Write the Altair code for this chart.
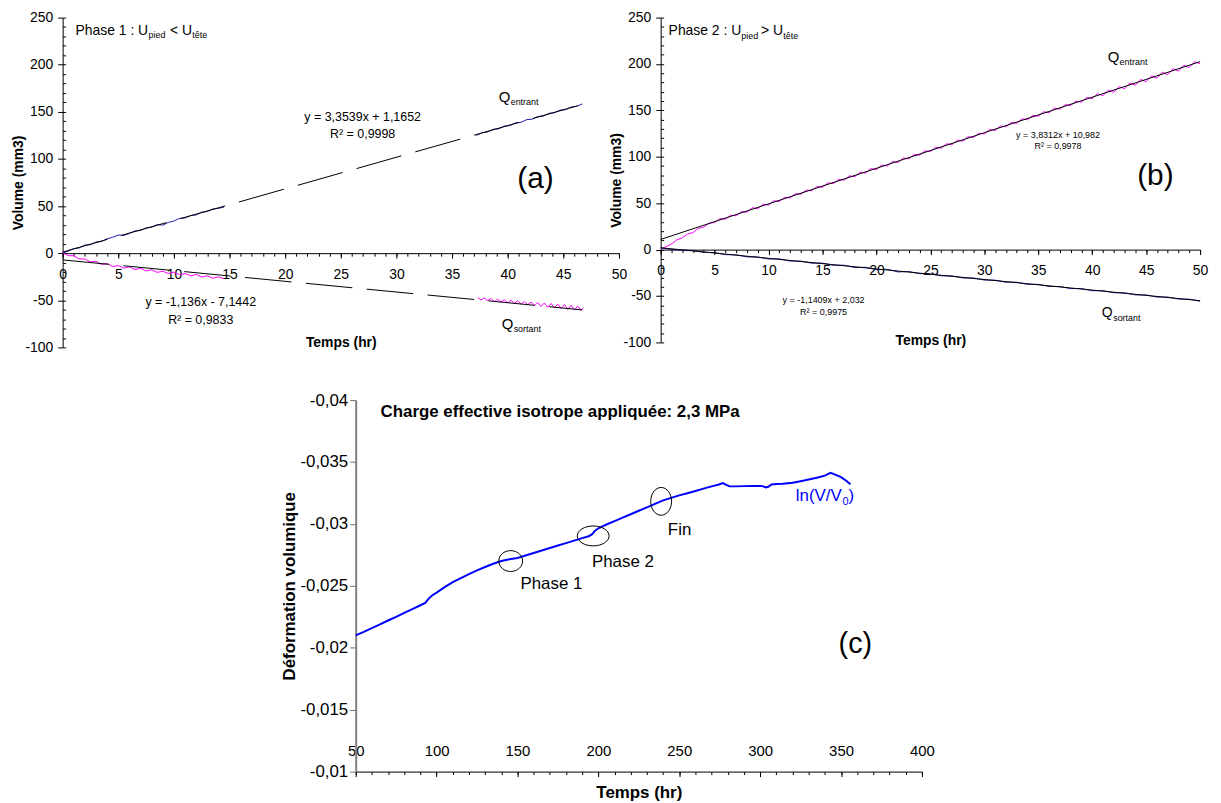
import altair as alt
import pandas as pd

FONT = "Liberation Sans"
MAGENTA = "#FF00FF"
NAVY = "#1C1CA8"
BLUE = "#0000FF"

# ---------------- Panel (a) data ----------------
a_in1_t = [0, 0.5, 1, 1.5, 2, 2.5, 3, 3.5, 4, 4.5, 5, 5.5, 6, 6.5, 7, 7.5, 8, 8.5, 9, 9.5,
           10, 10.5, 11, 11.5, 12, 12.5, 13, 13.5, 14, 14.5]
a_in1_v = [0.0, 2.1, 4.9, 5.6, 8.6, 9.0, 11.8, 12.4, 15.3, 16.8, 19.2, 18.9, 21.0, 23.6, 24.0,
           26.9, 27.5, 30.3, 29.8, 32.6, 34.1, 36.9, 37.4, 39.9, 40.6, 43.5, 44.2, 46.9, 47.5, 48.9]
a_in2_t = [37.2, 37.7, 38.2, 38.7, 39.2, 39.7, 40.2, 40.7, 41.2, 41.7, 42.2, 42.7, 43.2, 43.7,
           44.2, 44.7, 45.2, 45.7, 46.2, 46.7]
a_in2_v = [125.0, 127.9, 128.6, 131.5, 132.0, 134.9, 135.4, 138.2, 138.9, 141.7, 142.2, 145.0,
           145.5, 148.4, 149.0, 151.8, 152.3, 155.1, 155.8, 158.4]
a_out1_t = [0, 0.5, 1, 1.5, 2, 2.5, 3, 3.5, 4, 4.5, 5, 5.5, 6, 6.5, 7, 7.5, 8, 8.5, 9, 9.5,
            10, 10.5, 11, 11.5, 12, 12.5, 13, 13.5, 14, 14.5]
a_out1_v = [0.5, -2.6, -2.8, -6.2, -6.1, -9.4, -8.6, -11.9, -11.0, -14.2, -13.1, -15.9, -14.6,
            -17.4, -16.1, -18.9, -17.6, -20.4, -19.1, -21.6, -20.1, -22.9, -21.6, -24.1, -22.6,
            -25.4, -24.1, -26.6, -25.1, -27.2]
a_out2_t = [37.3, 37.6, 37.9, 38.2, 38.5, 38.8, 39.1, 39.4, 39.7, 40.0, 40.3, 40.6, 40.9, 41.2,
            41.5, 41.8, 42.1, 42.4, 42.7, 43.0, 43.3, 43.6, 43.9, 44.2, 44.5, 44.8, 45.1, 45.4,
            45.7, 46.0, 46.3, 46.6, 46.8]
a_out2_v = [-47.0, -49.6, -47.6, -50.4, -48.2, -51.3, -48.9, -51.8, -49.5, -52.6, -50.0, -53.4,
            -50.6, -54.1, -51.2, -54.8, -51.9, -55.6, -52.3, -56.5, -52.8, -57.4, -53.4, -58.1,
            -54.0, -58.9, -54.6, -59.7, -55.3, -60.4, -56.1, -60.8, -58.0]
a_trend_t = [0, 46.7]
a_trend_in = [1.17, 157.8]
a_trend_out = [-7.14, -60.2]

# ---------------- Panel (b) data ----------------
b_in_t = [0, 0.5, 1, 1.5, 2, 2.5, 3, 3.5, 4, 4.5, 5, 5.5, 6, 6.5, 7, 7.5, 8, 8.5, 9, 9.5,
          10, 10.5, 11, 11.5, 12, 12.5, 13, 13.5, 14, 14.5, 15, 15.5, 16, 16.5, 17, 17.5, 18,
          18.5, 19, 19.5, 20, 20.5, 21, 21.5, 22, 22.5, 23, 23.5, 24, 24.5, 25, 25.5, 26, 26.5,
          27, 27.5, 28, 28.5, 29, 29.5, 30, 30.5, 31, 31.5, 32, 32.5, 33, 33.5, 34, 34.5, 35,
          35.5, 36, 36.5, 37, 37.5, 38, 38.5, 39, 39.5, 40, 40.5, 41, 41.5, 42, 42.5, 43, 43.5,
          44, 44.5, 45, 45.5, 46, 46.5, 47, 47.5, 48, 48.5, 49, 49.5, 50]
b_in_v = [0.5, 3.2, 6.0, 10.5, 12.6, 16.8, 18.4, 22.9, 24.3, 28.6, 29.2, 33.4, 32.8, 37.1, 36.5,
          41.0, 40.4, 45.2, 44.1, 49.0, 48.0, 52.6, 51.9, 56.4, 55.7, 60.3, 59.6, 64.2, 63.4, 68.0,
          67.2, 71.9, 71.0, 75.7, 74.8, 79.5, 78.6, 83.4, 82.5, 87.3, 86.3, 91.0, 90.1, 94.9, 94.0,
          98.8, 97.8, 102.6, 101.6, 106.4, 105.5, 110.2, 109.3, 114.0, 113.1, 117.9, 116.9, 121.7,
          120.8, 125.5, 124.6, 129.4, 128.4, 133.2, 132.3, 137.0, 136.0, 140.9, 139.9, 144.7,
          143.7, 148.5, 147.5, 152.4, 151.3, 156.2, 155.2, 160.0, 158.9, 163.9, 162.7, 168.0,
          165.9, 171.9, 169.4, 175.8, 173.2, 179.6, 177.1, 183.4, 180.9, 187.3, 184.7, 191.1,
          188.5, 194.9, 192.4, 198.7, 196.2, 202.5, 200.3]
b_out_t = [0, 1, 2, 3, 4, 5, 6, 7, 8, 9, 10, 11, 12, 13, 14, 15, 16, 17, 18, 19, 20, 21, 22, 23,
           24, 25, 26, 27, 28, 29, 30, 31, 32, 33, 34, 35, 36, 37, 38, 39, 40, 41, 42, 43, 44, 45,
           46, 47, 48, 49, 50]
b_out_v = [1.8, 0.2, -0.6, -0.9, -2.9, -3.2, -5.4, -5.6, -7.8, -7.9, -10.1, -10.0, -12.3, -12.4,
           -14.6, -14.5, -16.9, -16.8, -19.3, -19.0, -21.7, -21.2, -24.0, -23.6, -25.9, -26.1,
           -28.2, -28.3, -30.5, -30.6, -32.8, -32.9, -35.1, -35.1, -37.4, -37.4, -39.7, -39.7,
           -42.0, -41.9, -44.3, -44.2, -46.5, -46.5, -48.8, -48.8, -51.1, -51.1, -53.3, -53.4, -55.6]
b_trend_t = [0, 50]
b_trend_in = [10.98, 202.54]
b_trend_out = [2.03, -55.01]

# ---------------- Panel (c) data ----------------
c_t = [50, 55, 60, 65, 70, 75, 80, 85, 90, 93, 95, 97, 100, 105, 110, 115, 120, 125, 130, 135,
       140, 145, 150, 155, 160, 165, 170, 175, 180, 185, 190, 194, 196, 198, 200, 205, 210, 215,
       220, 225, 230, 235, 240, 245, 250, 255, 260, 265, 270, 274, 277, 279, 281, 285, 290, 295,
       300, 302, 303.6, 305, 307, 310, 314, 320, 325, 330, 335, 340, 343.5, 346, 350, 353, 355.8]
c_v = [-0.02100, -0.02128, -0.02158, -0.02188, -0.02220, -0.02250, -0.02282, -0.02312, -0.02343,
       -0.02362, -0.02395, -0.02420, -0.02445, -0.02490, -0.02530, -0.02562, -0.02595, -0.02625,
       -0.02652, -0.02678, -0.02700, -0.02715, -0.02725, -0.02745, -0.02765, -0.02785, -0.02805,
       -0.02825, -0.02845, -0.02865, -0.02885, -0.02900, -0.02915, -0.02945, -0.02965, -0.02995,
       -0.03022, -0.03050, -0.03078, -0.03106, -0.03134, -0.03162, -0.03190, -0.03210, -0.03230,
       -0.03248, -0.03266, -0.03285, -0.03303, -0.03316, -0.03330, -0.03315, -0.03304, -0.03303,
       -0.03305, -0.03306, -0.03307, -0.03303, -0.03294, -0.03300, -0.03318, -0.03322, -0.03324,
       -0.03332, -0.03345, -0.03358, -0.03372, -0.03390, -0.03412, -0.03400, -0.03378, -0.03350,
       -0.03320]
c_marks_t = [145.8, 196.8, 238.8]
c_marks_v = [-0.0270, -0.02903, -0.03182]

ONE = pd.DataFrame({"k": [0]})


def txt(s, x, y, size, color="black", align="left", baseline="alphabetic", weight="normal"):
    return alt.Chart(ONE).mark_text(
        text=s, fontSize=size, font=FONT, color=color, align=align,
        baseline=baseline, fontWeight=weight,
    ).encode(x=alt.value(x), y=alt.value(y))


def seg_df(t, v, seg):
    return pd.DataFrame({"t": t, "v": v, "seg": [seg] * len(t)})


def panel_ab(width, height, lines, trends, texts, title_y):
    xs = alt.Scale(domain=[0, 50], nice=False, zero=False)
    ys = alt.Scale(domain=[-100, 250], nice=False, zero=False)
    off = -(height * 100 / 350)
    layers = []
    for df, color, w in lines:
        layers.append(alt.Chart(df).mark_line(color=color, strokeWidth=w).encode(
            x=alt.X("t:Q", scale=xs, axis=None),
            y=alt.Y("v:Q", scale=ys, axis=None),
            detail="seg:N"))
    for df, dash in trends:
        kw = {"strokeDash": dash} if dash else {}
        layers.append(alt.Chart(df).mark_line(color="black", strokeWidth=1, **kw).encode(
            x=alt.X("t:Q", scale=xs, axis=None),
            y=alt.Y("v:Q", scale=ys, axis=None)))
    corners = pd.DataFrame({"t": [0, 50], "v": [-100, 250]})
    major = alt.Chart(corners).mark_point(opacity=0).encode(
        x=alt.X("t:Q", scale=xs, axis=alt.Axis(
            values=[0, 5, 10, 15, 20, 25, 30, 35, 40, 45, 50], orient="bottom", offset=off,
            tickSize=5, labelPadding=16, labelBaseline="middle", labelFontSize=14,
            labelFlush=False, labelOverlap=False, labelExpr="toString(datum.value)",
            title="Temps (hr)", titleFontSize=14, titleFontWeight="bold",
            titleY=title_y, titleBaseline="middle")),
        y=alt.Y("v:Q", scale=ys, axis=alt.Axis(
            values=[-100, -50, 0, 50, 100, 150, 200, 250], orient="left",
            tickSize=5, labelPadding=5, labelFontSize=14, labelFlush=False,
            labelOverlap=False, labelExpr="toString(datum.value)",
            title="Volume (mm3)", titleFontSize=14, titleFontWeight="bold",
            titleX=-44, titleBaseline="middle")))
    minor = alt.Chart(corners).mark_point(opacity=0).encode(
        x=alt.X("t:Q", scale=xs, axis=alt.Axis(
            values=list(range(0, 51)), orient="bottom", offset=off, tickSize=3,
            labels=False, domain=False, title=None)),
        y=alt.Y("v:Q", scale=ys, axis=alt.Axis(
            values=list(range(-100, 251, 10)), orient="right", offset=-width, tickSize=3,
            labels=False, domain=False, title=None)))
    layers += [major, minor] + texts
    return alt.layer(*layers).resolve_axis(x="independent", y="independent").properties(
        width=width, height=height)


DASH = [47, 14.5]

a_texts = [
    txt("Phase 1 : U", 13, 17.3, 14),
    txt("pied", 86.5, 20.5, 9),
    txt("< U", 108, 17.3, 14),
    txt("tête", 130.5, 20.5, 9),
    txt("y = 3,3539x + 1,1652", 302, 104, 12.5, align="center"),
    txt("R² = 0,9998", 302, 121, 12.5, align="center"),
    txt("Q", 439, 85, 15),
    txt("entrant", 451, 88, 9),
    txt("(a)", 476, 163, 30, align="center", baseline="middle"),
    txt("y = -1,136x - 7,1442", 139, 290, 12.5, align="center"),
    txt("R² = 0,9833", 139, 308, 12.5, align="center"),
    txt("Q", 442, 313, 15),
    txt("sortant", 454, 316, 9),
]

panel_a = panel_ab(
    560, 332,
    [(pd.concat([seg_df(a_in1_t, a_in1_v, 1), seg_df(a_in2_t, a_in2_v, 2)]), NAVY, 1),
     (pd.concat([seg_df(a_out1_t, a_out1_v, 1), seg_df(a_out2_t, a_out2_v, 2)]), MAGENTA, 1)],
    [(pd.DataFrame({"t": a_trend_t, "v": a_trend_in}), DASH),
     (pd.DataFrame({"t": a_trend_t, "v": a_trend_out}), DASH)],
    a_texts, 90)

b_texts = [
    txt("Phase 2 : U", 8, 18, 14),
    txt("pied", 81.2, 21.2, 9),
    txt("> U", 101, 18, 14),
    txt("tête", 123.5, 21.2, 9),
    txt("y = 3,8312x + 10,982", 400, 121, 9, align="center"),
    txt("R² = 0,9978", 400, 132.7, 9, align="center"),
    txt("Q", 450, 44.3, 15),
    txt("entrant", 462, 47.5, 9),
    txt("(b)", 498, 160, 30, align="center", baseline="middle"),
    txt("y = -1,1409x + 2,032", 164, 287, 9, align="center"),
    txt("R² = 0,9975", 164, 299.3, 9, align="center"),
    txt("Q", 444, 301.7, 14),
    txt("sortant", 455.5, 305, 9),
]

panel_b = panel_ab(
    543, 327,
    [(seg_df(b_in_t, b_in_v, 1), MAGENTA, 1),
     (seg_df(b_out_t, b_out_v, 1), NAVY, 1)],
    [(pd.DataFrame({"t": b_trend_t, "v": b_trend_in}), None),
     (pd.DataFrame({"t": b_trend_t, "v": b_trend_out}), None)],
    b_texts, 91.5)

# ---------------- Panel (c) ----------------
cxs = alt.Scale(domain=[50, 400], nice=False, zero=False)
cys = alt.Scale(domain=[-0.04, -0.01], nice=False, zero=False, reverse=True)
c_df = pd.DataFrame({"t": c_t, "v": c_v})

c_line = alt.Chart(c_df).mark_line(color=BLUE, strokeWidth=2).encode(
    x=alt.X("t:Q", scale=cxs, axis=alt.Axis(
        values=[50, 100, 150, 200, 250, 300, 350, 400], orient="bottom", tickSize=5,
        labelPadding=-26, labelBaseline="middle", labelFontSize=15, labelFlush=False,
        labelOverlap=False, labelExpr="toString(datum.value)",
        title="Temps (hr)", titleFontSize=17, titleFontWeight="bold", titleY=21,
        titleBaseline="middle")),
    y=alt.Y("v:Q", scale=cys, axis=alt.Axis(
        values=[-0.04, -0.035, -0.03, -0.025, -0.02, -0.015, -0.01], orient="left",
        tickSize=6, labelPadding=2, labelFontSize=17, labelFlush=False, labelOverlap=False,
        labelExpr="replace(toString(datum.value), '.', ',')",
        domainColor="#808080", domainWidth=2, tickColor="#707070",
        title="Déformation volumique", titleFontSize=17, titleFontWeight="bold",
        titleX=-67, titleBaseline="middle")))

c_minor = alt.Chart(pd.DataFrame({"t": [50, 400], "v": [-0.04, -0.01]})).mark_point(
    opacity=0).encode(
    x=alt.X("t:Q", scale=cxs, axis=alt.Axis(
        values=list(range(50, 401, 10)), orient="bottom", tickSize=3, labels=False,
        domain=False, title=None)),
    y=alt.Y("v:Q", scale=cys, axis=None))

ellipse_shapes = [
    ("M -1 0 A 1 0.875 0 1 0 1 0 A 1 0.875 0 1 0 -1 0 Z", 576),
    ("M -1 0 A 1 0.625 0 1 0 1 0 A 1 0.625 0 1 0 -1 0 Z", 1024),
    ("M -1 0 A 1 1.333 0 1 0 1 0 A 1 1.333 0 1 0 -1 0 Z", 441),
]
c_ellipses = []
for i, (shape, size) in enumerate(ellipse_shapes):
    c_ellipses.append(alt.Chart(pd.DataFrame({"t": [c_marks_t[i]], "v": [c_marks_v[i]]})).mark_point(
        shape=shape, size=size, filled=False, color="black", strokeWidth=1, opacity=1).encode(
        x=alt.X("t:Q", scale=cxs, axis=None), y=alt.Y("v:Q", scale=cys, axis=None)))

c_texts = [
    txt("Charge effective isotrope appliquée: 2,3 MPa", 25, 17.5, 17, weight="bold"),
    txt("Phase 1", 197, 185, 17, align="center", baseline="middle"),
    txt("Phase 2", 269, 163, 17, align="center", baseline="middle"),
    txt("Fin", 326, 131, 17, align="center", baseline="middle"),
    txt("ln(V/V", 443, 102, 17, color=BLUE),
    txt("0", 490, 106, 11, color=BLUE),
    txt(")", 496, 102, 17, color=BLUE),
    txt("(c)", 503, 246, 29, align="center", baseline="middle"),
]

panel_c = alt.layer(c_line, c_minor, *c_ellipses, *c_texts).resolve_axis(
    x="independent", y="independent").properties(width=570, height=374)

spacer = alt.Chart(ONE).mark_point(opacity=0).encode(
    x=alt.X("k:Q", axis=None), y=alt.Y("k:Q", axis=None)).properties(width=295, height=10)

top = alt.hconcat(panel_a, panel_b, spacing=42, bounds="flush")
bottom = alt.hconcat(spacer, panel_c, spacing=0, bounds="flush")

chart = alt.vconcat(top, bottom, spacing=37).properties(
    padding={"left": 4, "top": 0, "right": 5, "bottom": 5},
    background="white",
).configure_view(stroke=None).configure_axis(
    grid=False, labelFont=FONT, titleFont=FONT, labelColor="black", titleColor="black",
    domainColor="black", tickColor="black",
)

chart.save("out.html", embed_options={"renderer": "svg", "actions": False})
